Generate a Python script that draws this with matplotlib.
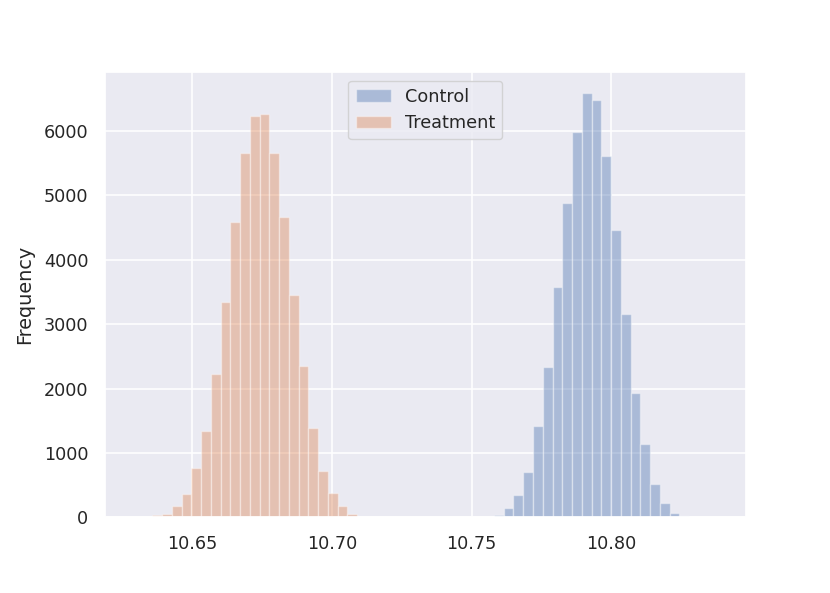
import numpy as np
import matplotlib
matplotlib.use("Agg")
import matplotlib.pyplot as plt
import seaborn as sns

# bootstrap histogram counts
bin_width = 0.00349

control_start = 10.75798
control_counts = [31, 145, 342, 709, 1418, 2329, 3576, 4890, 5988, 6593,
                  6489, 5620, 4471, 3157, 1931, 1134, 523, 217, 72, 26]

treatment_start = 10.63225
treatment_counts = [8, 31, 45, 171, 362, 771, 1335, 2219, 3352, 4589, 5665, 6239,
                    6270, 5665, 4671, 3456, 2344, 1381, 724, 372, 171, 47, 8]

x_limits = (10.61875, 10.84807)


def bin_edges(start, counts):
    return start + bin_width * np.arange(len(counts) + 1)


sns.set(font_scale=1.155)
plt.rcParams['font.family'] = ['DejaVu Sans']
plt.rcParams['grid.linewidth'] = 1.15
plt.rcParams['xtick.major.pad'] = 6.5
plt.rcParams['ytick.major.pad'] = 6.0

fig = plt.figure(figsize=(8.3, 5.93), dpi=100)
ax = fig.add_axes([105 / 830, (593 - 517.3) / 593, 640.7 / 830, 445.6 / 593])

c_edges = bin_edges(control_start, control_counts)
t_edges = bin_edges(treatment_start, treatment_counts)

ax.hist(c_edges[:-1], bins=c_edges, weights=control_counts,
        alpha=0.4, label='Control')
ax.hist(t_edges[:-1], bins=t_edges, weights=treatment_counts,
        alpha=0.4, label='Treatment')

ax.set_xlim(*x_limits)
ax.set_xticks([10.65, 10.70, 10.75, 10.80])
ax.set_yticks(range(0, 7000, 1000))
ax.set_ylabel('Frequency', labelpad=7)
ax.legend(loc='upper center')

fig.savefig('out.png', dpi=100)
